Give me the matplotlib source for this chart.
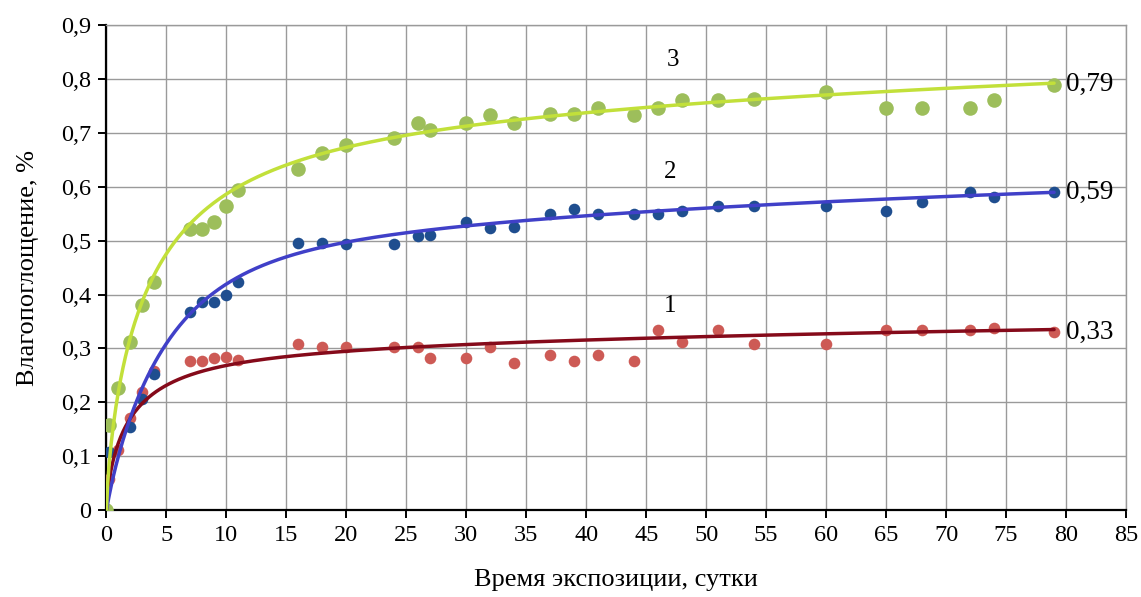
import numpy as np
import matplotlib
matplotlib.use("Agg")
import matplotlib.pyplot as plt
from matplotlib.ticker import FuncFormatter

# Exposure time, days, and moisture uptake, %
days_1 = [0, 0.2, 1, 2, 3, 4, 7, 8, 9, 10, 11, 16, 18, 20, 24, 26, 27, 30, 32, 34,
          37, 39, 41, 44, 46, 48, 51, 54, 60, 65, 68, 72, 74, 79]
uptake_1 = [0, 0.057, 0.111, 0.17, 0.22, 0.258, 0.277, 0.277, 0.283, 0.285, 0.278,
            0.308, 0.303, 0.303, 0.303, 0.303, 0.282, 0.282, 0.303, 0.273, 0.288,
            0.277, 0.288, 0.277, 0.334, 0.312, 0.334, 0.308, 0.308, 0.334, 0.334,
            0.334, 0.338, 0.33]

days_2 = [0, 0.2, 2, 3, 4, 7, 8, 9, 10, 11, 16, 18, 20, 24, 26, 27, 30, 32, 34,
          37, 39, 41, 44, 46, 48, 51, 54, 60, 65, 68, 72, 74, 79]
uptake_2 = [0, 0.107, 0.154, 0.207, 0.252, 0.367, 0.386, 0.386, 0.400, 0.423,
            0.495, 0.495, 0.494, 0.493, 0.508, 0.51, 0.534, 0.523, 0.525, 0.549,
            0.558, 0.549, 0.549, 0.549, 0.556, 0.564, 0.564, 0.564, 0.556, 0.571,
            0.59, 0.581, 0.59]

days_3 = [0, 0.2, 1, 2, 3, 4, 7, 8, 9, 10, 11, 16, 18, 20, 24, 26, 27, 30, 32, 34,
          37, 39, 41, 44, 46, 48, 51, 54, 60, 65, 68, 72, 74, 79]
uptake_3 = [0, 0.158, 0.227, 0.312, 0.381, 0.423, 0.521, 0.521, 0.534, 0.564, 0.594,
            0.634, 0.662, 0.678, 0.69, 0.718, 0.705, 0.718, 0.734, 0.718, 0.735,
            0.735, 0.747, 0.734, 0.747, 0.762, 0.762, 0.764, 0.776, 0.746, 0.746,
            0.746, 0.762, 0.79]

# Trend curves: y = a * (1 - exp(-(t / tau) ** n)) + c * ln(1 + t)
trend_a = [0.208, 0.305, 0.442]
trend_tau = [1.73, 5.0, 3.06]
trend_n = [0.65, 1.0, 0.68]
trend_c = [0.029, 0.065, 0.08]

curve_labels = ["1", "2", "3"]
end_labels = ["0,33", "0,59", "0,79"]
curve_label_pos = [(47.0, 0.378), (47.0, 0.627), (47.2, 0.835)]

x_ticks = list(range(0, 90, 5))
y_ticks = [round(0.1 * i, 1) for i in range(10)]


def trend(t, a, tau, n, c):
    return a * (1.0 - np.exp(-(t / tau) ** n)) + c * np.log1p(t)


plt.rcParams["font.family"] = ["Liberation Serif", "DejaVu Serif"]

fig = plt.figure(figsize=(11.41, 5.97), dpi=100)
ax = fig.add_axes([0.0933, 0.1457, 0.8936, 0.812])

series = [
    (days_1, uptake_1, "#CD5A55", "#850A1A", 70),
    (days_2, uptake_2, "#1F4E8F", "#4040C8", 70),
    (days_3, uptake_3, "#9DBE5B", "#C2E03A", 110),
]

for x, y, mcol, lcol, size in series:
    ax.scatter(x, y, s=size, color=mcol, zorder=3, linewidths=0)

t = np.linspace(0, 79, 800)
for i, (x, y, mcol, lcol, size) in enumerate(series):
    yt = trend(t, trend_a[i], trend_tau[i], trend_n[i], trend_c[i])
    ax.plot(t, yt, color=lcol, lw=2.5, zorder=4, solid_capstyle="round")

# end values and curve numbers
for (x, y, *_), val in zip(series, end_labels):
    ax.text(x[-1] + 1.0, y[-1], val, fontsize=19.5, va="center", ha="left")
for (lx, ly), lab in zip(curve_label_pos, curve_labels):
    ax.text(lx, ly, lab, fontsize=18, ha="center", va="center")

ax.set_xlim(0, 85)
ax.set_ylim(0, 0.9)
ax.set_xticks(x_ticks)
ax.set_yticks(y_ticks)
fmt = FuncFormatter(lambda v, p: ("%g" % round(v, 1)).replace(".", ","))
ax.yaxis.set_major_formatter(fmt)
ax.grid(True, color="#9a9a9a", lw=1.0)
ax.set_axisbelow(True)

for side in ("top", "right"):
    ax.spines[side].set_color("#9a9a9a")
    ax.spines[side].set_linewidth(1.0)
for side in ("left", "bottom"):
    ax.spines[side].set_color("black")
    ax.spines[side].set_linewidth(1.6)

ax.tick_params(axis="both", labelsize=17.5, direction="out", length=6, width=1.4,
               color="black", pad=5)

ax.set_xlabel("Время экспозиции, сутки", fontsize=19, labelpad=16)
ax.set_ylabel("Влагопоглощение, %", fontsize=19, labelpad=16)

fig.savefig("out.png", dpi=100)
